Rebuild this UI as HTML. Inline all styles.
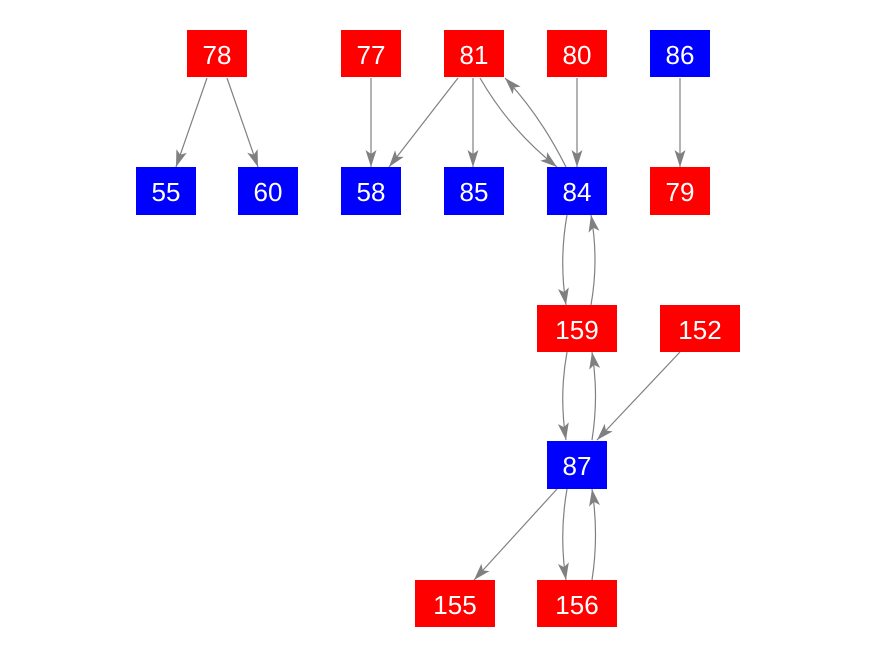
<!DOCTYPE html>
<html><head><style>
body{margin:0;background:#fff;}
svg{display:block;}
text{font-family:"Liberation Sans",Arial,sans-serif;font-size:26px;fill:#fff;text-anchor:middle;dominant-baseline:central;}
</style></head><body>
<svg width="875" height="656" viewBox="0 0 875 656">
<defs>
<marker id="a" markerUnits="userSpaceOnUse" markerWidth="18" markerHeight="12" refX="17" refY="6" orient="auto">
<path d="M0,0.5 L17,6 L0,11.5 L4,6 z" fill="#808080"/>
</marker>
</defs>
<g stroke="#808080" stroke-width="1.2" fill="none" marker-end="url(#a)">
<path d="M207,78 L176,167"/>
<path d="M227,78 L258,167"/>
<path d="M371,78 L371,167"/>
<path d="M458,78 L389,167"/>
<path d="M473,78 L473,167"/>
<path d="M480,78 Q510,130 557,167"/>
<path d="M566,167 Q540,115 505,78"/>
<path d="M577,78 L577,167"/>
<path d="M680,78 L680,167"/>
<path d="M567,215 Q559,260 566,305"/>
<path d="M591,305 Q599,260 591,215"/>
<path d="M567,352 Q559,396 566,440"/>
<path d="M592,440 Q599,396 592,352"/>
<path d="M680,352 L597,440"/>
<path d="M557,489 L474,580"/>
<path d="M567,489 Q559,535 566,580"/>
<path d="M592,580 Q599,535 592,489"/>
</g>
<g>
<rect x="187" y="30" width="60" height="47" fill="#f00"/><text x="217" y="55">78</text>
<rect x="341" y="30" width="60" height="47" fill="#f00"/><text x="371" y="55">77</text>
<rect x="444" y="30" width="60" height="47" fill="#f00"/><text x="474" y="55">81</text>
<rect x="547" y="30" width="60" height="47" fill="#f00"/><text x="577" y="55">80</text>
<rect x="650" y="30" width="60" height="47" fill="#00f"/><text x="680" y="55">86</text>
<rect x="136" y="167" width="60" height="48" fill="#00f"/><text x="166" y="192">55</text>
<rect x="238" y="167" width="60" height="48" fill="#00f"/><text x="268" y="192">60</text>
<rect x="341" y="167" width="60" height="48" fill="#00f"/><text x="371" y="192">58</text>
<rect x="444" y="167" width="60" height="48" fill="#00f"/><text x="474" y="192">85</text>
<rect x="547" y="167" width="60" height="48" fill="#00f"/><text x="577" y="192">84</text>
<rect x="650" y="167" width="60" height="48" fill="#f00"/><text x="680" y="192">79</text>
<rect x="537" y="305" width="80" height="47" fill="#f00"/><text x="577" y="330">159</text>
<rect x="660" y="305" width="80" height="47" fill="#f00"/><text x="700" y="330">152</text>
<rect x="547" y="441" width="60" height="48" fill="#00f"/><text x="577" y="466">87</text>
<rect x="415" y="580" width="80" height="47" fill="#f00"/><text x="455" y="605">155</text>
<rect x="537" y="580" width="80" height="47" fill="#f00"/><text x="577" y="605">156</text>
</g>
</svg>
</body></html>
